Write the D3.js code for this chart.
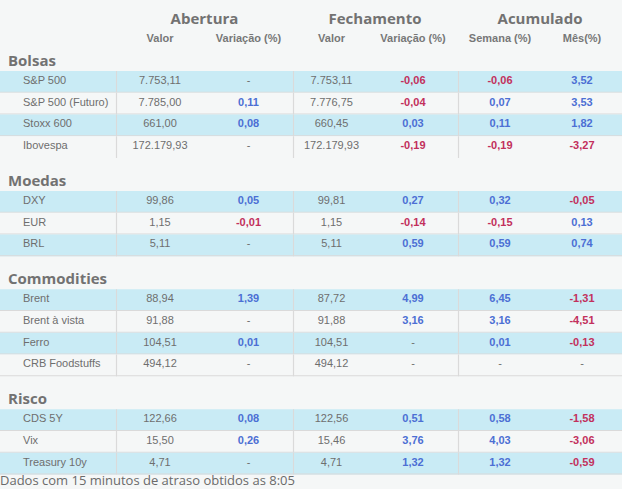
<!DOCTYPE html>
<html>
<head>
<meta charset="utf-8">
<script src="https://cdn.jsdelivr.net/npm/d3@7"></script>
<style>
  html, body { margin: 0; padding: 0; background: #f5f7f7; }
  svg { display: block; }
  .grp { font-family: "Open Sans", sans-serif; font-weight: 700; font-size: 15px; fill: #727272; }
  .sub { font-family: "Liberation Sans", Arial, sans-serif; font-weight: 700; font-size: 11px; fill: #777; }
  .cell { font-family: "Liberation Sans", Arial, sans-serif; font-size: 11px; fill: #6e6e6e; }
  .num { font-weight: 700; }
  .foot { font-family: "Open Sans", sans-serif; font-size: 13px; fill: #6a6a6a; }
</style>
</head>
<body>
<div id="chart"></div>
<script>
const width = 622
const height = 489

const sections = ["Bolsas", "Moedas", "Commodities", "Risco"]
const sectionOf = [0, 0, 0, 0, 1, 1, 1, 2, 2, 2, 2, 3, 3, 3]
const names = ["S&P 500", "S&P 500 (Futuro)", "Stoxx 600", "Ibovespa",
  "DXY", "EUR", "BRL",
  "Brent", "Brent à vista", "Ferro", "CRB Foodstuffs",
  "CDS 5Y", "Vix", "Treasury 10y"]
const aberturaValor = [7753.11, 7785.00, 661.00, 172179.93, 99.86, 1.15, 5.11, 88.94, 91.88, 104.51, 494.12, 122.66, 15.50, 4.71]
const aberturaVar = [null, 0.11, 0.08, null, 0.05, -0.01, null, 1.39, null, 0.01, null, 0.08, 0.26, null]
const fechamentoValor = [7753.11, 7776.75, 660.45, 172179.93, 99.81, 1.15, 5.11, 87.72, 91.88, 104.51, 494.12, 122.56, 15.46, 4.71]
const fechamentoVar = [-0.06, -0.04, 0.03, -0.19, 0.27, -0.14, 0.59, 4.99, 3.16, null, null, 0.51, 3.76, 1.32]
const semana = [-0.06, 0.07, 0.11, -0.19, 0.32, -0.15, 0.59, 6.45, 3.16, 0.01, null, 0.58, 4.03, 1.32]
const mes = [3.52, 3.53, 1.82, -3.27, -0.05, 0.13, 0.74, -1.31, -4.51, -0.13, null, -1.58, -3.06, -0.59]

const groups = ["Abertura", "Fechamento", "Acumulado"]
const subHeaders = ["Valor", "Variação (%)", "Valor", "Variação (%)", "Semana (%)", "Mês(%)"]
const footnote = "Dados com 15 minutos de atraso obtidos as 8:05"

const ptBR = d3.formatLocale({ decimal: ",", thousands: ".", grouping: [3], currency: ["R$", ""], minus: "-" })
const fmt = ptBR.format(",.2f")

const rows = names.map((name, i) => ({
  name,
  section: sectionOf[i],
  values: [aberturaValor[i], aberturaVar[i], fechamentoValor[i], fechamentoVar[i], semana[i], mes[i]]
}))

// vertical layout in "row units": one unit per row, a gap before each new section
const sectionGap = 33 / 21.75
let u = 0
rows.forEach((r, i) => {
  if (i > 0 && r.section !== rows[i - 1].section) u += sectionGap
  r.u = u
  r.stripe = (i === 0 || r.section !== rows[i - 1].section) ? 0 : 1 - rows[i - 1].stripe
  u += 1
})
const y = d3.scaleLinear().domain([0, 1]).range([71, 92.75])

// columns
const colCenter = [160, 248.5, 331.5, 413, 500, 582]
const groupCenter = [204.5, 375, 540]
const dividers = [116, 293, 458]
const nameX = 23

const svg = d3.select("#chart").append("svg")
  .attr("width", width)
  .attr("height", height)

svg.append("rect").attr("width", width).attr("height", height).attr("fill", "#f5f7f7")

// group headers
svg.append("g").selectAll("text")
  .data(groups)
  .join("text")
  .attr("class", "grp")
  .attr("x", (d, i) => groupCenter[i])
  .attr("y", 24)
  .attr("text-anchor", "middle")
  .text(d => d)

svg.append("g").selectAll("text")
  .data(subHeaders)
  .join("text")
  .attr("class", "sub")
  .attr("x", (d, i) => colCenter[i])
  .attr("y", 42)
  .attr("text-anchor", "middle")
  .text(d => d)

// section labels
const firstRow = sections.map((s, k) => rows.find(r => r.section === k))
svg.append("g").selectAll("text")
  .data(sections)
  .join("text")
  .attr("class", "grp")
  .attr("x", 8)
  .attr("y", (d, k) => y(firstRow[k].u) - 5)
  .text(d => d)

// rows
const row = svg.append("g").selectAll("g")
  .data(rows)
  .join("g")
  .attr("transform", d => "translate(0," + y(d.u) + ")")

const rh = y(1) - y(0)
const textY = rh / 2 - 2

row.append("rect")
  .attr("width", width)
  .attr("height", rh)
  .attr("fill", d => d.stripe === 0 ? "#c9ebf5" : "#f5f7f7")

// bottom border, except the first section's last row (as in the source table)
row.filter((d, i) => !(i === 3))
  .append("line")
  .attr("x1", 0).attr("x2", width)
  .attr("y1", rh - 0.5).attr("y2", rh - 0.5)
  .attr("stroke", "#dadada")
  .attr("stroke-width", 1.2)

row.selectAll("line.div")
  .data(dividers)
  .join("line")
  .attr("class", "div")
  .attr("x1", d => d + 0.5).attr("x2", d => d + 0.5)
  .attr("y1", 0).attr("y2", rh)
  .attr("stroke", "#dadada")
  .attr("stroke-width", 1.2)

row.append("text")
  .attr("class", "cell")
  .attr("x", nameX)
  .attr("y", textY)
  .attr("dy", "0.36em")
  .text(d => d.name)

const varColor = d => {
  if (d.j === 0 || d.j === 2 || d.v === null) return null
  return d.v < 0 ? "#c2305c" : "#4c6fd4"
}

row.selectAll("text.v")
  .data(d => d.values.map((v, j) => ({ v, j })))
  .join("text")
  .attr("class", d => varColor(d) ? "v cell num" : "v cell")
  .attr("x", d => colCenter[d.j])
  .attr("y", textY)
  .attr("dy", "0.36em")
  .attr("text-anchor", "middle")
  .style("fill", varColor)
  .text(d => d.v === null ? "-" : fmt(d.v))

svg.append("text")
  .attr("class", "foot")
  .attr("x", 0)
  .attr("y", 485)
  .text(footnote)
</script>
</body>
</html>
